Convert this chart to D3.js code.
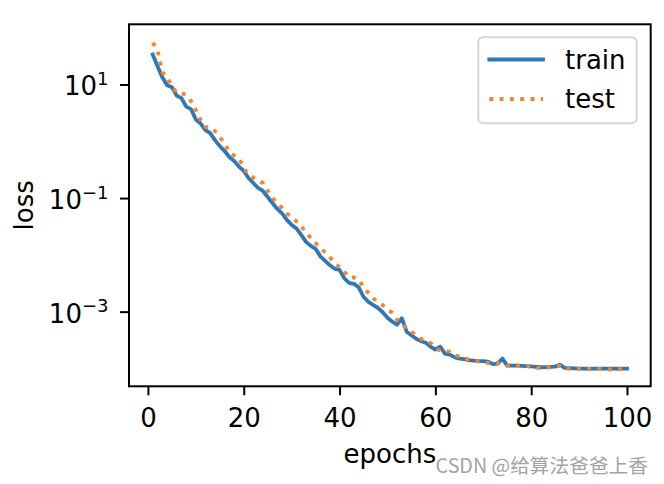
<!DOCTYPE html>
<html><head><meta charset="utf-8">
<script src="https://cdn.jsdelivr.net/npm/d3@7"></script>
<style>body{margin:0;background:#fff} svg{display:block}</style>
</head><body><svg id="chart" width="664" height="484"></svg>
<script>
const epochs = [1,2,3,4,5,6,7,8,9,10,11,12,13,14,15,16,17,18,19,20,21,22,23,24,25,26,27,28,29,30,31,32,33,34,35,36,37,38,39,40,41,42,43,44,45,46,47,48,49,50,51,52,53,54,55,56,57,58,59,60,61,62,63,64,65,66,67,68,69,70,71,72,73,74,75,76,77,78,79,80,81,82,83,84,85,86,87,88,89,90,91,92,93,94,95,96,97,98,99,100];
const trainLoss = [33.7, 21.0, 13.4, 9.72, 8.97, 6.36, 5.74, 4.07, 3.68, 2.41,
  2.05, 1.57, 1.39, 1.05, 0.823, 0.673, 0.528, 0.449, 0.359, 0.300,
  0.2256, 0.1842, 0.1505, 0.1333, 0.1045, 0.0820, 0.0643, 0.0536, 0.0412, 0.0337,
  0.0292, 0.02246, 0.01692, 0.01439, 0.01275, 0.00941, 0.00784, 0.00654, 0.00568, 0.00545,
  0.00386, 0.00322, 0.00309, 0.00268, 0.00183, 0.00149, 0.00132, 0.00117, 0.000976, 0.000781,
  0.000665, 0.000589, 0.000766, 0.000443, 0.000385, 0.000334, 0.000302, 0.000284, 0.000242, 0.000214,
  0.000242, 0.000182, 0.000175, 0.000158, 0.000149, 0.000146, 0.000140, 0.000137, 0.000134, 0.000134,
  0.000132, 0.000119, 0.0001215, 0.000149, 0.000112, 0.000112, 0.000112, 0.000111, 0.0001098, 0.0001084,
  0.0001067, 0.0001050, 0.0001054, 0.0001062, 0.0001076, 0.0001166, 0.0001020, 0.0001012, 0.0001004, 0.0000992,
  0.0000992, 0.0000988, 0.0000996, 0.0000992, 0.0000992, 0.0000996, 0.0000992, 0.0000988, 0.0000992, 0.0000992];
const testLoss = [54.3, 40.1, 16.45, 13.44, 9.34, 7.18, 7.03, 6.62, 5.09, 3.53,
  2.36, 1.776, 1.776, 1.511, 1.185, 0.911, 0.633, 0.561, 0.507, 0.338,
  0.2547, 0.2301, 0.2039, 0.1842, 0.1333, 0.1004, 0.0804, 0.0670, 0.0536, 0.0465,
  0.0388, 0.0323, 0.02435, 0.01990, 0.01625, 0.0130, 0.01106, 0.00904, 0.00738, 0.00603,
  0.00502, 0.00402, 0.00400, 0.00371, 0.00268, 0.00215, 0.00172, 0.00149, 0.00130, 0.00110,
  0.000957, 0.000721, 0.000601, 0.000511, 0.000443, 0.000385, 0.000334, 0.000308, 0.000281, 0.000237,
  0.000201, 0.000200, 0.000197, 0.000175, 0.000161, 0.000152, 0.0001428, 0.000137, 0.0001333, 0.000129,
  0.0001249, 0.0001249, 0.0001249, 0.000119, 0.000112, 0.0001134, 0.000113, 0.000112, 0.0001098, 0.0001076,
  0.000102, 0.0001012, 0.0001033, 0.0001041, 0.0001098, 0.0001107, 0.0001012, 0.000098, 0.0000984, 0.0000992,
  0.0000992, 0.000098, 0.000098, 0.000098, 0.000098, 0.0000968, 0.0000953, 0.000096, 0.0000972, 0.000098];
const seriesNames = ["train", "test"];
const xTicks = [0, 20, 40, 60, 80, 100];
const yTickExps = [1, -1, -3];
const xLabel = "epochs", yLabel = "loss";
const watermark = "CSDN @给算法爸爸上香";

const FONT = "'DejaVu Sans', sans-serif";
const L = 129, R = 650.7, T = 24.3, B = 386.3;
const svg = d3.select("#chart");

const x = d3.scaleLinear().domain([-3.95, 104.95]).range([L, R]);
const y = d3.scaleLog().domain([Math.pow(10, -4.3146), Math.pow(10, 2.0598)]).range([B, T]);

const colors = ["#2f78b5", "#f5842c"];
const dashes = [null, "3.9,6.4"];
const data = [trainLoss, testLoss];

const line = d3.line().x((d, i) => x(epochs[i])).y(d => y(d));
data.forEach((s, k) => {
  svg.append("path").datum(s).attr("d", line)
    .attr("fill", "none").attr("stroke", colors[k]).attr("stroke-width", 3.8)
    .attr("stroke-linejoin", "round")
    .attr("stroke-linecap", k === 0 ? "square" : "butt")
    .attr("stroke-dasharray", dashes[k]);
});

// X axis
const xAxis = d3.axisBottom(x).tickValues(xTicks).tickSize(9).tickSizeOuter(0).tickFormat(d3.format("d"));
const gx = svg.append("g").attr("transform", `translate(0,${B})`).call(xAxis);
gx.select(".domain").remove();
gx.selectAll(".tick line").attr("stroke", "#000").attr("stroke-width", 2);
gx.selectAll(".tick text").attr("dy", null).attr("y", 40.7)
  .attr("font-family", FONT).attr("font-size", 26).attr("fill", "#000");

// Y axis
const yAxis = d3.axisLeft(y).tickValues(yTickExps.map(e => Math.pow(10, e))).tickSize(9).tickSizeOuter(0).tickPadding(11.5).tickFormat(() => "");
const gy = svg.append("g").attr("transform", `translate(${L},0)`).call(yAxis);
gy.select(".domain").remove();
gy.selectAll(".tick line").attr("stroke", "#000").attr("stroke-width", 2);
gy.selectAll(".tick text").each(function(d, i) {
  const t = d3.select(this).attr("dy", null).attr("y", 10.5)
    .attr("font-family", FONT).attr("font-size", 26).attr("fill", "#000").text(null);
  t.append("tspan").text("10");
  const e = yTickExps[i];
  t.append("tspan").attr("font-size", 18).attr("dy", -10.5)
    .text(e < 0 ? "\u2212" + Math.abs(e) : String(e));
});

// Spines
svg.append("rect").attr("x", L).attr("y", T).attr("width", R - L).attr("height", B - T)
  .attr("fill", "none").attr("stroke", "#000").attr("stroke-width", 2);

// Axis labels
svg.append("text").attr("x", (L + R) / 2).attr("y", 463).attr("text-anchor", "middle")
  .attr("font-family", FONT).attr("font-size", 26).attr("fill", "#000").text(xLabel);
svg.append("text").attr("transform", `translate(32.7,${(T + B) / 2}) rotate(-90)`)
  .attr("text-anchor", "middle").attr("font-family", FONT).attr("font-size", 26).attr("fill", "#000").text(yLabel);

// Legend
const lg = svg.append("g");
lg.append("rect").attr("x", 478.3).attr("y", 37.3).attr("width", 158.4).attr("height", 86).attr("rx", 5)
  .attr("fill", "#fff").attr("fill-opacity", 0.8).attr("stroke", "#cccccc").attr("stroke-opacity", 0.8).attr("stroke-width", 2);
seriesNames.forEach((name, k) => {
  const yy = 59.5 + k * 39.5;
  lg.append("line").attr("x1", 489.3).attr("x2", 543).attr("y1", yy).attr("y2", yy)
    .attr("stroke", colors[k]).attr("stroke-width", 3.8)
    .attr("stroke-linecap", k === 0 ? "square" : "butt").attr("stroke-dasharray", dashes[k]);
  lg.append("text").attr("x", 565).attr("y", yy + 9).attr("font-family", FONT).attr("font-size", 26)
    .attr("fill", "#000").text(name);
});

// Watermark
svg.append("text").attr("x", 648).attr("y", 473).attr("text-anchor", "end")
  .attr("font-family", "'Noto Sans CJK SC', sans-serif").attr("font-size", 19.7).attr("fill", "#a3a3a3").text(watermark);
</script></body></html>
